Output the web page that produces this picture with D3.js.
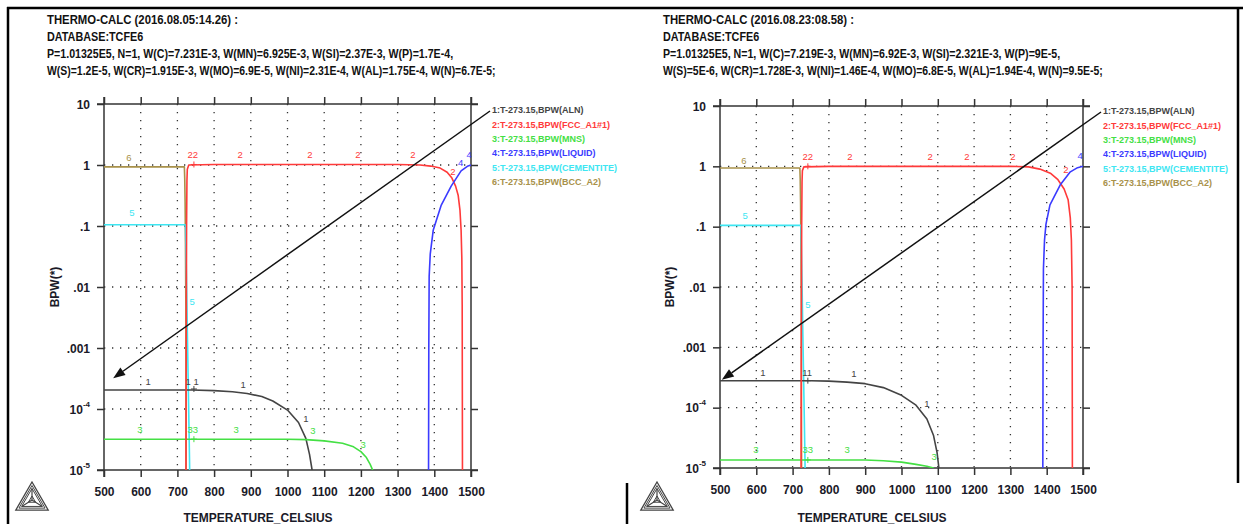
<!DOCTYPE html>
<html><head><meta charset="utf-8">
<script src="https://cdn.jsdelivr.net/npm/d3@7"></script>
<style>
body{margin:0;background:#fff}
svg{display:block}
text{font-family:"Liberation Sans",Arial,Helvetica,sans-serif}
</style>
</head><body>
<svg id="chart" width="1243" height="524"></svg>
<script>
// ---------------- DATA ----------------
const xTicks = [500,600,700,800,900,1000,1100,1200,1300,1400,1500];
const yTicks = [10,1,0.1,0.01,0.001,1e-4,1e-5];
const yTickBase = ["10","1",".1",".01",".001","10","10"];
const yTickSup  = ["","","","","","-4","-5"];
const xTitle = "TEMPERATURE_CELSIUS";
const yTitle = "BPW(*)";

const seriesNames = ["1:T-273.15,BPW(ALN)","2:T-273.15,BPW(FCC_A1#1)","3:T-273.15,BPW(MNS)",
                     "4:T-273.15,BPW(LIQUID)","5:T-273.15,BPW(CEMENTITE)","6:T-273.15,BPW(BCC_A2)"];
const seriesColors = ["#444444","#ff3a3a","#44e044","#3b3bff","#3ee6f2","#a8914a"];

const leftHeader = ["THERMO-CALC (2016.08.05:14.26) :","DATABASE:TCFE6",
  "P=1.01325E5, N=1, W(C)=7.231E-3, W(MN)=6.925E-3, W(SI)=2.37E-3, W(P)=1.7E-4,",
  "W(S)=1.2E-5, W(CR)=1.915E-3, W(MO)=6.9E-5, W(NI)=2.31E-4, W(AL)=1.75E-4, W(N)=6.7E-5;"];
const rightHeader = ["THERMO-CALC (2016.08.23:08.58) :","DATABASE:TCFE6",
  "P=1.01325E5, N=1, W(C)=7.219E-3, W(MN)=6.92E-3, W(SI)=2.321E-3, W(P)=9E-5,",
  "W(S)=5E-6, W(CR)=1.728E-3, W(NI)=1.46E-4, W(MO)=6.8E-5, W(AL)=1.94E-4, W(N)=9.5E-5;"];

// left panel series [T (C), BPW]
const leftALN = [[500,2.05e-4],[740,2.05e-4],[800,2.0e-4],[850,1.92e-4],[890,1.8e-4],[930,1.6e-4],[960,1.35e-4],[1000,9.6e-5],[1030,6e-5],[1050,3.3e-5],[1060,1.8e-5],[1067,1e-5],[1069,5e-6]];
const leftFCC = [[723,1e-6],[724,1e-3],[725,0.1],[726,0.55],[727,0.85],[731,1.0],[800,1.02],[1000,1.02],[1300,1.02],[1361,1.0],[1390,0.96],[1416,0.89],[1435,0.76],[1448,0.61],[1458,0.45],[1465,0.32],[1470,0.18],[1473,0.086],[1475,0.03],[1476,0.005],[1477,1e-6]];
const leftMNS = [[500,3.2e-5],[1000,3.2e-5],[1050,3.15e-5],[1100,3.0e-5],[1150,2.75e-5],[1180,2.4e-5],[1200,2.0e-5],[1215,1.6e-5],[1225,1.25e-5],[1232,1e-5],[1236,8e-6]];
const leftLIQ = [[1384,1e-6],[1385,1e-3],[1386,0.015],[1389,0.035],[1397,0.085],[1419,0.22],[1446,0.45],[1473,0.8],[1490,0.95],[1500,1.0]];
const leftCEM = [[500,0.105],[722,0.105],[723,0.05],[725,0.012],[727,2e-3],[729,4e-4],[731,8e-5],[733,1.5e-5],[735,2e-6]];
const leftBCC = [[500,0.93],[719,0.93],[720,0.6],[721,0.25],[722,0.05],[723,5e-3],[724,1e-6]];

// right panel series
const rightALN = [[500,2.8e-4],[750,2.8e-4],[800,2.75e-4],[850,2.65e-4],[900,2.5e-4],[950,2.15e-4],[1000,1.6e-4],[1040,1.1e-4],[1070,6.5e-5],[1088,3.5e-5],[1098,1.8e-5],[1103,1e-5],[1105,5e-6]];
const rightFCC = [[723,1e-6],[724,1e-3],[725,0.1],[726,0.55],[727,0.85],[731,0.98],[800,1.0],[1000,1.0],[1300,1.0],[1350,0.98],[1381,0.9],[1410,0.77],[1431,0.6],[1448,0.42],[1459,0.28],[1465,0.14],[1468,0.06],[1470,0.01],[1471,1e-6]];
const rightMNS = [[500,1.36e-5],[900,1.36e-5],[950,1.32e-5],[1000,1.25e-5],[1040,1.15e-5],[1070,1.07e-5],[1088,1e-5],[1093,9e-6]];
const rightLIQ = [[1389,1e-6],[1390,1e-3],[1391,0.02],[1394,0.06],[1398,0.11],[1409,0.23],[1437,0.49],[1464,0.8],[1485,0.95],[1500,1.0]];
const rightCEM = [[500,0.105],[723,0.105],[724,0.05],[726,0.012],[728,2e-3],[730,4e-4],[732,8e-5],[734,1.5e-5],[736,2e-6]];
const rightBCC = [[500,0.94],[720,0.94],[721,0.6],[722,0.25],[723,0.05],[724,5e-3],[725,1e-6]];

// curve labels [series index, T, BPW, text]
const leftLabels = [[5,568,1.3,"6"],[4,576,0.163,"5"],[1,742,1.5,"22"],[1,871,1.5,"2"],[1,1061,1.5,"2"],
  [1,1192,1.5,"2"],[1,1342,1.5,"2"],[1,1451,0.77,"2"],[3,1495,1.47,"4"],[3,1472,1.1,"4"],[4,740,5.7e-3,"5"],
  [0,620,2.77e-4,"1"],[0,729,2.77e-4,"1"],[0,751,2.77e-4,"1"],[0,879,2.47e-4,"1"],[0,1050,6.9e-5,"1"],
  [2,598,4.5e-5,"3"],[2,742,4.5e-5,"33"],[2,860,4.5e-5,"3"],[2,1069,4.4e-5,"3"],[2,1206,2.57e-5,"3"]];
const leftPlus = [[0,745,2.13e-4],[1,745,1.02],[2,745,3.2e-5]];
const rightLabels = [[5,566,1.22,"6"],[4,569,0.15,"5"],[1,742,1.43,"22"],[1,858,1.43,"2"],[1,1079,1.43,"2"],
  [1,1180,1.43,"2"],[1,1307,1.43,"2"],[1,1453,0.87,"2"],[3,1492,1.48,"4"],[4,742,5e-3,"5"],
  [0,618,3.75e-4,"1"],[0,740,3.75e-4,"11"],[0,869,3.6e-4,"1"],[0,1070,1.15e-4,"1"],
  [2,599,2e-5,"3"],[2,742,2e-5,"33"],[2,850,2e-5,"3"],[2,1090,1.52e-5,"3"]];
const rightPlus = [[0,742,2.8e-4],[1,742,1.0],[2,742,1.36e-5]];

// arrow tips (data coordinates) from legend entry 1 to axis
const leftArrowTip = [525,3.2e-4];
const rightArrowTip = [505,2.9e-4];

// ---------------- DRAW ----------------
const svg = d3.select("#chart");
svg.append("rect").attr("width",1243).attr("height",524).attr("fill","#fff");

const panels = [
  {x0:104,x1:471,yTop:104,yBot:470,hx:47,legX:492,legY:110,logoX:32,xTitleX:258,yTitleX:55,
   header:leftHeader,series:[leftALN,leftFCC,leftMNS,leftLIQ,leftCEM,leftBCC],labels:leftLabels,plus:leftPlus,tip:leftArrowTip,id:"L"},
  {x0:720,x1:1083,yTop:106,yBot:468,hx:663,legX:1103,legY:111,logoX:657,xTitleX:872,yTitleX:670,
   header:rightHeader,series:[rightALN,rightFCC,rightMNS,rightLIQ,rightCEM,rightBCC],labels:rightLabels,plus:rightPlus,tip:rightArrowTip,id:"R"}
];
const headerNarrow = [0.945,0.9,0.885,0.87];

function narrow(sel, f){
  sel.each(function(){
    const w = this.getComputedTextLength();
    d3.select(this).attr("textLength", w*f).attr("lengthAdjust","spacingAndGlyphs");
  });
}

const drawOrder = [5,4,0,2,1,3];

panels.forEach(p=>{
  const g = svg.append("g");
  const x = d3.scaleLinear().domain([500,1500]).range([p.x0,p.x1]);
  const y = d3.scaleLog().domain([1e-5,10]).range([p.yBot,p.yTop]);

  // header
  p.header.forEach((t,i)=>{
    const tx = g.append("text").attr("x",p.hx).attr("y",24+i*17)
      .attr("font-size",12).attr("font-weight","bold").attr("fill","#111").text(t);
    narrow(tx,headerNarrow[i]);
  });

  // grid
  const grid = g.append("g").attr("stroke","#333").attr("stroke-width",1.3).attr("stroke-dasharray","1.3,6.7");
  xTicks.slice(1,-1).forEach(t=>grid.append("line").attr("x1",x(t)).attr("x2",x(t)).attr("y1",y(10)).attr("y2",y(1e-5)));
  yTicks.slice(1,-1).forEach(t=>grid.append("line").attr("y1",y(t)).attr("y2",y(t)).attr("x1",x(500)).attr("x2",x(1500)));

  // axes
  const ax = g.append("g").attr("class","axes");
  const bottom = ax.append("g").attr("transform",`translate(0,${p.yBot})`)
    .call(d3.axisBottom(x).tickValues(xTicks).tickSize(7).tickPadding(10).tickFormat(d3.format("d")));
  const top = ax.append("g").attr("transform",`translate(0,${p.yTop})`)
    .call(d3.axisTop(x).tickValues(xTicks).tickSize(7).tickFormat(""));
  const left = ax.append("g").attr("transform",`translate(${p.x0},0)`)
    .call(d3.axisLeft(y).tickValues(yTicks).tickSize(7).tickPadding(7).tickFormat(""));
  const right = ax.append("g").attr("transform",`translate(${p.x1},0)`)
    .call(d3.axisRight(y).tickValues(yTicks).tickSize(7).tickFormat(""));
  ax.selectAll(".domain").remove();
  ax.selectAll(".tick line").attr("stroke","#333").attr("stroke-width",1.5);
  bottom.selectAll(".tick text").attr("font-size",12).attr("font-weight","bold").attr("fill","#1a1a28")
    .attr("font-family","Liberation Sans, Arial, sans-serif");
  left.selectAll(".tick text").each(function(d,i){
    const t = d3.select(this).attr("font-size",12).attr("font-weight","bold").attr("fill","#1a1a28")
      .attr("font-family","Liberation Sans, Arial, sans-serif").attr("dy","0.35em");
    const idx = yTicks.indexOf(d);
    t.text(null);
    t.append("tspan").text(yTickBase[idx]);
    if(yTickSup[idx]) t.append("tspan").attr("font-size",8).attr("dy",-7).text(yTickSup[idx]);
  });
  // frame lines (overshooting corners)
  const fr = ax.append("g").attr("stroke","#333").attr("stroke-width",1.5);
  fr.append("line").attr("x1",p.x0-7).attr("x2",p.x1+7).attr("y1",p.yBot).attr("y2",p.yBot);
  fr.append("line").attr("x1",p.x0-7).attr("x2",p.x1+7).attr("y1",p.yTop).attr("y2",p.yTop);
  fr.append("line").attr("x1",p.x0).attr("x2",p.x0).attr("y1",p.yTop-7).attr("y2",p.yBot+7);
  fr.append("line").attr("x1",p.x1).attr("x2",p.x1).attr("y1",p.yTop-7).attr("y2",p.yBot+7);

  // titles
  g.append("text").attr("x",p.xTitleX).attr("y",522).attr("text-anchor","middle")
    .attr("font-size",12).attr("font-weight","bold").attr("fill","#1a1a28").text(xTitle);
  g.append("text").attr("transform",`translate(${p.yTitleX},${(p.yTop+p.yBot)/2}) rotate(-90)`)
    .attr("text-anchor","middle").attr("dy","0.35em")
    .attr("font-size",12).attr("font-weight","bold").attr("fill","#1a1a28").text(yTitle);

  // clip
  const cid = "clip"+p.id;
  svg.append("defs").append("clipPath").attr("id",cid).append("rect")
    .attr("x",p.x0).attr("y",p.yTop-2).attr("width",p.x1-p.x0+1).attr("height",p.yBot-p.yTop+2);
  const lines = g.append("g").attr("clip-path",`url(#${cid})`);
  const line = d3.line().x(d=>x(d[0])).y(d=>y(Math.max(d[1],1e-7)));
  drawOrder.forEach(i=>{
    lines.append("path").datum(p.series[i]).attr("d",line).attr("fill","none")
      .attr("stroke",seriesColors[i]).attr("stroke-width",1.6).attr("stroke-linejoin","round");
  });

  // curve labels
  p.labels.forEach(l=>{
    g.append("text").attr("x",x(l[1])).attr("y",y(l[2])).attr("dy","0.35em").attr("text-anchor","middle")
      .attr("font-size",9.5).attr("fill",seriesColors[l[0]]).text(l[3]);
  });
  p.plus.forEach(l=>{
    const cx=x(l[1]), cy=y(l[2]);
    g.append("path").attr("d",`M${cx-3},${cy}H${cx+3}M${cx},${cy-3}V${cy+3}`)
      .attr("stroke",seriesColors[l[0]]).attr("stroke-width",1);
  });

  // legend
  seriesNames.forEach((n,i)=>{
    g.append("text").attr("x",p.legX).attr("y",p.legY+i*14.4).attr("dy","0.35em")
      .attr("font-size",9).attr("font-weight","bold").attr("fill",seriesColors[i]).text(n);
  });

  // arrow
  const tx = x(p.tip[0]), ty = y(p.tip[1]);
  const sx = p.legX-2, sy = p.legY+1;
  const ang = Math.atan2(ty-sy, tx-sx);
  const L = 12, W = 4.5;
  const bx = tx - L*Math.cos(ang), by = ty - L*Math.sin(ang);
  g.append("line").attr("x1",sx).attr("y1",sy).attr("x2",bx).attr("y2",by).attr("stroke","#111").attr("stroke-width",1.5);
  g.append("path").attr("d",`M${tx},${ty}L${bx+W*Math.sin(ang)},${by-W*Math.cos(ang)}L${bx-W*Math.sin(ang)},${by+W*Math.cos(ang)}Z`)
    .attr("fill","#111");

  // logo
  const lg = g.append("g").attr("transform",`translate(${p.logoX},500)`).attr("fill","none").attr("stroke","#444");
  const tri = s => `M0,${-s}L${s*0.9},${s*0.56}L${-s*0.9},${s*0.56}Z`;
  lg.append("path").attr("d",tri(18)).attr("stroke-width",1.3);
  lg.append("path").attr("d",tri(14.5)).attr("stroke-width",1);
  lg.append("path").attr("d",tri(11.5)).attr("stroke-width",1);
  lg.append("path").attr("d",`M0,-11.5L0,0M0,0L10.3,6.4M0,0L-10.3,6.4`).attr("stroke-width",1.2);
  lg.append("path").attr("d",tri(4)).attr("stroke-width",1);
});

// page borders
const bd = svg.append("g").attr("stroke","#000").attr("stroke-width",2.5);
bd.append("line").attr("x1",8).attr("x2",8).attr("y1",7).attr("y2",524);
bd.append("line").attr("x1",7).attr("x2",1243).attr("y1",8).attr("y2",8);
bd.append("line").attr("x1",1238).attr("x2",1238).attr("y1",7).attr("y2",483);
bd.append("line").attr("x1",627).attr("x2",627).attr("y1",483).attr("y2",524);
</script>
</body></html>
